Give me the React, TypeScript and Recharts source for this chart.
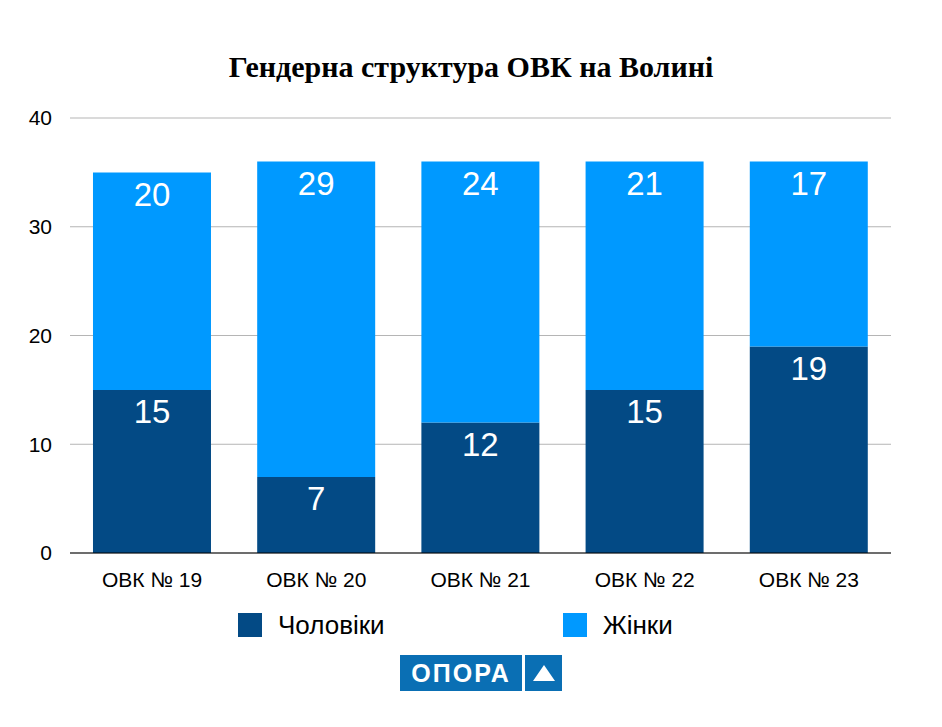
import React from 'react';
import {
  BarChart, Bar, XAxis, YAxis, CartesianGrid, Legend, LabelList,
} from 'recharts';

const categories = ['ОВК № 19', 'ОВК № 20', 'ОВК № 21', 'ОВК № 22', 'ОВК № 23'];
const men = [15, 7, 12, 15, 19];
const women = [20, 29, 24, 21, 17];
const yTicks = [0, 10, 20, 30, 40];
const seriesNames = { men: 'Чоловіки', women: 'Жінки' };
const legendOrder = ['men', 'women'];

const MEN_COLOR = '#034A85';
const WOMEN_COLOR = '#0099FF';
const SANS = '"Liberation Sans", Arial, Helvetica, sans-serif';

const data = categories.map((name, i) => ({ name, men: men[i], women: women[i] }));

function LegendContent({ payload }: any) {
  const items = [...(payload ?? [])].sort(
    (a: any, b: any) => legendOrder.indexOf(a.dataKey) - legendOrder.indexOf(b.dataKey),
  );
  return (
    <div style={{ display: 'flex', alignItems: 'center', height: 30, paddingLeft: 238, fontFamily: SANS }}>
      {items.map((it: any, i: number) => (
        <div key={it.value} style={{ display: 'flex', alignItems: 'center', marginRight: i === 0 ? 178 : 0 }}>
          <span style={{ width: 24, height: 24, background: it.color, display: 'inline-block' }} />
          <span style={{ marginLeft: 16, fontSize: 26, color: '#000' }}>{it.value}</span>
        </div>
      ))}
    </div>
  );
}

function Logo() {
  return (
    <div style={{ position: 'absolute', left: 400, top: 655, display: 'flex', height: 36 }}>
      <div style={{
        width: 122, height: 36, background: '#0A6FB4', color: '#fff', fontFamily: SANS,
        fontWeight: 'bold', fontSize: 25, letterSpacing: 2, display: 'flex',
        alignItems: 'center', justifyContent: 'center',
      }}>
        ОПОРА
      </div>
      <div style={{ width: 37, height: 36, marginLeft: 3, background: '#0A6FB4', display: 'flex', alignItems: 'center', justifyContent: 'center' }}>
        <svg width="22" height="16" viewBox="0 0 22 16">
          <polygon points="11,0 22,16 0,16" fill="#fff" />
        </svg>
      </div>
    </div>
  );
}

export default function App() {
  return (
    <div style={{ position: 'absolute', left: 0, top: 0, width: 942, height: 727, background: '#fff' }}>
      <div style={{
        position: 'absolute', left: 0, top: 50, width: 942, textAlign: 'center',
        fontFamily: '"Liberation Serif", "Times New Roman", serif', fontWeight: 'bold', fontSize: 30, color: '#000',
      }}>
        Гендерна структура ОВК на Волині
      </div>
      <BarChart
        width={942}
        height={727}
        data={data}
        margin={{ top: 118, right: 51, left: 10, bottom: 87 }}
        barCategoryGap="14%"
        style={{ fontFamily: SANS }}
      >
        <CartesianGrid vertical={false} stroke="#b5b5b5" />
        <XAxis
          dataKey="name"
          height={57}
          tickLine={false}
          tickSize={0}
          tickMargin={19}
          axisLine={{ stroke: '#000' }}
          tick={{ fill: '#000', fontSize: 21 }}
        />
        <YAxis
          width={60}
          domain={[0, 40]}
          ticks={yTicks}
          axisLine={false}
          tickLine={false}
          tickSize={0}
          tickMargin={18}
          tick={{ fill: '#000', fontSize: 21 }}
        />
        <Legend verticalAlign="bottom" wrapperStyle={{ left: 0, width: 942 }} content={<LegendContent />} />
        <Bar dataKey="men" name={seriesNames.men} stackId="a" fill={MEN_COLOR} isAnimationActive={false}>
          <LabelList dataKey="men" position="insideTop" offset={10} fill="#fff" fontSize={33} />
        </Bar>
        <Bar dataKey="women" name={seriesNames.women} stackId="a" fill={WOMEN_COLOR} isAnimationActive={false}>
          <LabelList dataKey="women" position="insideTop" offset={10} fill="#fff" fontSize={33} />
        </Bar>
      </BarChart>
      <Logo />
    </div>
  );
}
